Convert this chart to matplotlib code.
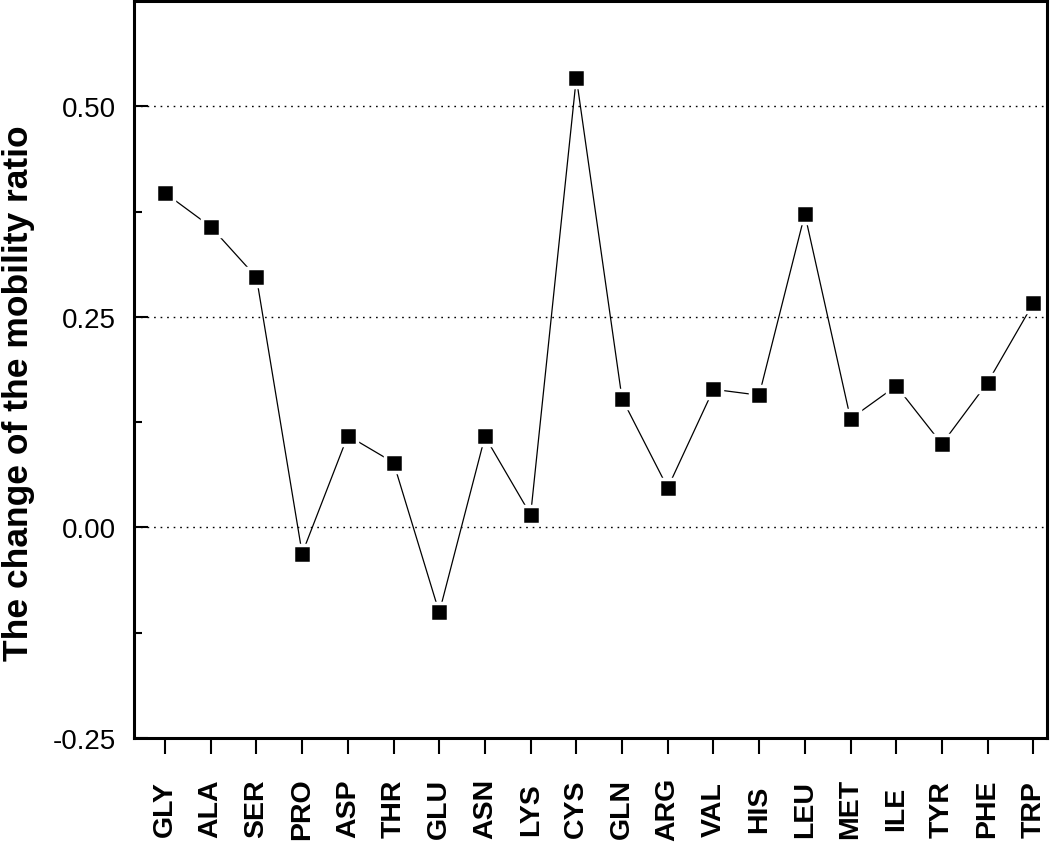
import matplotlib
matplotlib.use("Agg")
import matplotlib.pyplot as plt
from matplotlib.ticker import MultipleLocator, FixedLocator

plt.rcParams['font.family'] = ['Liberation Sans', 'DejaVu Sans']

residues = ['GLY', 'ALA', 'SER', 'PRO', 'ASP', 'THR', 'GLU', 'ASN', 'LYS', 'CYS',
            'GLN', 'ARG', 'VAL', 'HIS', 'LEU', 'MET', 'ILE', 'TYR', 'PHE', 'TRP']
ratio_change = [0.397, 0.357, 0.297, -0.031, 0.109, 0.077, -0.101, 0.108, 0.015, 0.534,
                0.153, 0.047, 0.164, 0.157, 0.372, 0.129, 0.168, 0.099, 0.172, 0.266]
yticks = [-0.25, 0.00, 0.25, 0.50]
ytick_labels = ['-0.25', '0.00', '0.25', '0.50']

fig = plt.figure(figsize=(10.5, 8.45), dpi=100)
ax = fig.add_axes([134/1050, 1-739/845, (1047-134)/1050, (739-2)/845])

x = list(range(len(residues)))
ax.plot(x, ratio_change, color='black', lw=0.9, zorder=3)
ax.plot(x, ratio_change, ls='none', marker='s', ms=13.5, mfc='black',
        mec='white', mew=2.5, zorder=4)

# dotted reference lines at the major ticks
for yv in [0.0, 0.25, 0.50]:
    ax.axhline(yv, color='black', lw=1, ls=(0, (1.2, 3.5)), zorder=1)

ax.set_xlim(-0.68, 19.3)
ax.set_ylim(-0.25, 0.625)

ax.set_xticks(x)
ax.set_xticklabels(residues, rotation=90, fontsize=20.5, fontweight='bold', va='center')
ax.set_yticks(yticks)
ax.set_yticklabels(ytick_labels, fontsize=20)
ax.yaxis.set_minor_locator(FixedLocator([-0.125, 0.125, 0.375]))

ax.tick_params(axis='x', direction='out', length=11.5, width=1.5, pad=39)
ax.tick_params(axis='y', which='major', direction='in', length=10, width=1.5, pad=13)
ax.tick_params(axis='y', which='minor', direction='in', length=6, width=1.5)
ax.tick_params(axis='x', which='minor', bottom=False)

for sp in ax.spines.values():
    sp.set_linewidth(2.2)

ax.set_ylabel('The change of the mobility ratio', fontsize=25.5, fontweight='bold')
ax.yaxis.set_label_coords(-0.108, 0.469)

fig.savefig('out.png', dpi=100, facecolor='white')
